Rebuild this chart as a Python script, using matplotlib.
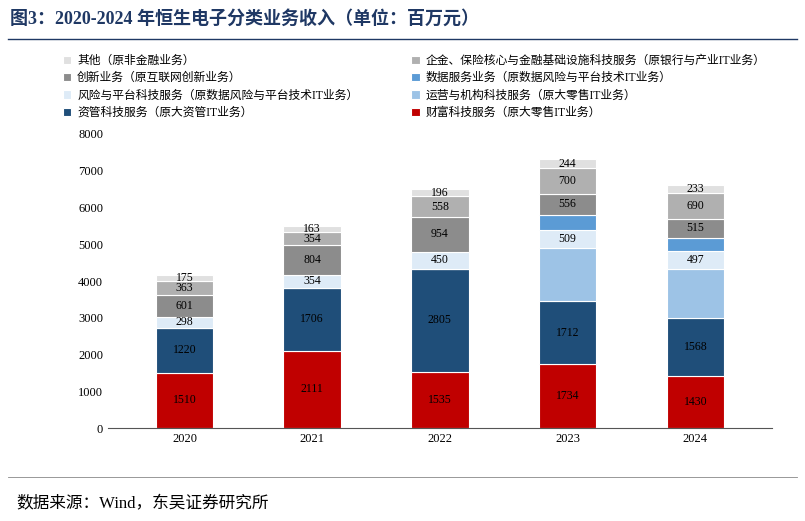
import matplotlib
matplotlib.use("Agg")
import matplotlib.pyplot as plt
import numpy as np

plt.rcParams["font.family"] = ["Liberation Serif", "Noto Sans CJK SC"]

years = ["2020", "2021", "2022", "2023", "2024"]
wealth = [1510, 2111, 1535, 1734, 1430]
asset_mgmt = [1220, 1706, 2805, 1712, 1568]
operation = [0, 0, 0, 1445, 1325]
risk = [298, 354, 450, 509, 497]
data_svc = [0, 0, 0, 405, 360]
innovation = [601, 804, 954, 556, 515]
enterprise = [363, 354, 558, 700, 690]
other = [175, 163, 196, 244, 233]

series = [
    ("财富科技服务（原大零售IT业务）", wealth, "#C00000", True),
    ("资管科技服务（原大资管IT业务）", asset_mgmt, "#1F4E79", True),
    ("运营与机构科技服务（原大零售IT业务）", operation, "#9DC3E6", False),
    ("风险与平台科技服务（原数据风险与平台技术IT业务）", risk, "#DEEBF7", True),
    ("数据服务业务（原数据风险与平台技术IT业务）", data_svc, "#5B9BD5", False),
    ("创新业务（原互联网创新业务）", innovation, "#8C8C8C", True),
    ("企金、保险核心与金融基础设施科技服务（原银行与产业IT业务）", enterprise, "#B0B0B0", True),
    ("其他（原非金融业务）", other, "#E0E0E0", True),
]

fig = plt.figure(figsize=(8.05, 5.21), dpi=100)
ax = fig.add_axes([0.134, 0.178, 0.825, 0.565])

x = np.arange(len(years))
bottom = np.zeros(len(years))
handles = {}
for label, vals, color, show in series:
    vals = np.array(vals, dtype=float)
    bars = ax.bar(x, vals, 0.45, bottom=bottom, color=color, edgecolor="white", linewidth=0.8, label=label)
    handles[label] = bars
    if show:
        for xi, b, v in zip(x, bottom, vals):
            if v > 0:
                ax.text(xi, b + v / 2, f"{int(v)}", ha="center", va="center", fontsize=8.5, color="black")
    bottom += vals

ax.set_xlim(-0.6, 4.6)
ax.set_ylim(0, 8000)
ax.set_yticks(range(0, 8001, 1000))
ax.set_xticks(x)
ax.set_xticklabels(years)
ax.tick_params(labelsize=9, length=0)
for s in ["top", "right", "left"]:
    ax.spines[s].set_visible(False)
ax.spines["bottom"].set_color("#555555")

order = [7, 5, 3, 1, 6, 4, 2, 0]
h = [handles[series[i][0]] for i in order]
l = [series[i][0] for i in order]
fig.legend(h, l, ncol=2, loc="upper left", bbox_to_anchor=(0.065, 0.915), frameon=False,
           fontsize=8.5, handlelength=0.7, handleheight=0.7, columnspacing=4.5, labelspacing=0.45,
           handletextpad=0.5)

fig.text(0.012, 0.963, "图3：2020-2024 年恒生电子分类业务收入（单位：百万元）", fontsize=13,
         fontweight="bold", color="#1F3864", ha="left", va="center")
fig.add_artist(plt.Line2D([0.01, 0.99], [0.925, 0.925], color="#1F3864", linewidth=1))
fig.add_artist(plt.Line2D([0.01, 0.99], [0.085, 0.085], color="#888888", linewidth=0.6))
fig.text(0.02, 0.032, "数据来源：Wind，东吴证券研究所", fontsize=12, ha="left", va="center")

fig.savefig("out.png", dpi=100)
